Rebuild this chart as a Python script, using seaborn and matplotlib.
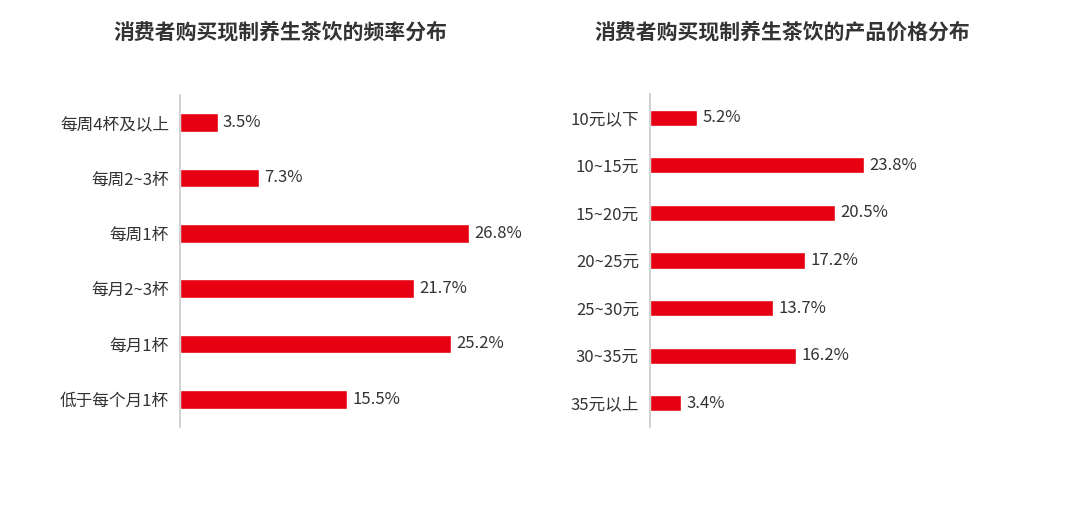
import matplotlib
matplotlib.use("Agg")
import matplotlib.pyplot as plt
import seaborn as sns
import pandas as pd

sns.set_theme(style="white")
plt.rcParams['font.family'] = ['Noto Sans CJK SC', 'DejaVu Sans']

freq_cats = ["每周4杯及以上", "每周2~3杯", "每周1杯", "每月2~3杯", "每月1杯", "低于每个月1杯"]
freq_vals = [3.5, 7.3, 26.8, 21.7, 25.2, 15.5]
price_cats = ["10元以下", "10~15元", "15~20元", "20~25元", "25~30元", "30~35元", "35元以上"]
price_vals = [5.2, 23.8, 20.5, 17.2, 13.7, 16.2, 3.4]

red = "#e60012"
fig = plt.figure(figsize=(10.65, 5.17), dpi=100)
ax1 = fig.add_axes([180/1065, 1-427/517, 350/1065, 332/517])
ax2 = fig.add_axes([650/1065, 1-427/517, 360/1065, 333/517])

def draw(ax, cats, vals, xmax):
    df = pd.DataFrame({"c": cats, "v": vals})
    sns.barplot(data=df, y="c", x="v", color=red, width=0.34, ax=ax, saturation=1)
    ax.set_xlim(0, xmax)
    ax.set_xlabel(""); ax.set_ylabel("")
    ax.set_xticks([])
    for s in ["top", "right", "bottom"]:
        ax.spines[s].set_visible(False)
    ax.spines["left"].set_color("#cccccc")
    ax.tick_params(axis="y", length=0, labelsize=12, labelcolor="#333333", pad=8)
    for i, v in enumerate(vals):
        ax.text(v + xmax*0.015, i, f"{v}%", va="center", ha="left", fontsize=12, color="#333333")

draw(ax1, freq_cats, freq_vals, 32.5)
draw(ax2, price_cats, price_vals, 40)
fig.text(280/1065, 1-32/517, "消费者购买现制养生茶饮的频率分布", ha="center", va="center",
         fontsize=15, fontweight="bold", color="#333333")
fig.text(782/1065, 1-32/517, "消费者购买现制养生茶饮的产品价格分布", ha="center", va="center",
         fontsize=15, fontweight="bold", color="#333333")
fig.savefig("out.png", dpi=100, facecolor="white")
